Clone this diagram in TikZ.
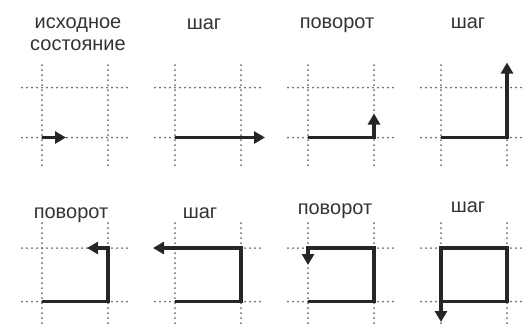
\documentclass[tikz,border=0pt]{standalone}
\usepackage{fontspec}
\setmainfont{Liberation Sans}
\usetikzlibrary{arrows.meta}
\tikzset{
  >=Latex,
  dotline/.style={draw=black!60, line width=2pt, line cap=round,
    dash pattern=on 0pt off 5pt},
  trail/.style={draw=black!85, line width=3.4pt, line join=miter,
    -{Triangle[length=11pt, width=12pt]}},
  caption/.style={anchor=base, align=center, text=black!80,
    font=\fontsize{20}{22}\selectfont, inner sep=0pt}
}

\begin{document}
\begin{tikzpicture}[x=1pt,y=-1pt]
\useasboundingbox (0,0) rectangle (525,325);

% Grid cells: name / left x / lower y / height / top and bottom reach of the verticals
\foreach \n/\x/\y/\h/\t/\b in {p1/42/137.5/50/65/165, p2/175/137.5/50/65/165,
    p3/308/137.5/50/65/165, p4/441/137.5/50/65/165,
    p5/42/301.5/53.5/223/328, p6/175/301.5/53.5/223/328,
    p7/308/301.5/53.5/223/328, p8/441/301.5/53.5/223/328}{
  \coordinate (\n-a) at (\x,\y);
  \coordinate (\n-b) at (\x+66,\y);
  \coordinate (\n-c) at (\x+66,\y-\h);
  \coordinate (\n-d) at (\x,\y-\h);
  \draw[dotline] (\x,\t) -- (\x,\b);
  \draw[dotline] (\x+66,\t) -- (\x+66,\b);
  \draw[dotline] (\x-20,\y) -- (\x+86,\y);
  \draw[dotline] (\x-20,\y-\h) -- (\x+86,\y-\h);
}

% Captions
\node[caption] (l1) at (78,50) {исходное\\состояние};
\node[caption] (l2) at (204,29) {шаг};
\node[caption] (l3) at (337,28) {поворот};
\node[caption] (l4) at (468,28) {шаг};
\node[caption] (l5) at (71,218) {поворот};
\node[caption] (l6) at (200,218) {шаг};
\node[caption] (l7) at (335,214) {поворот};
\node[caption] (l8) at (468,212) {шаг};

% Moves
\draw[trail] (p1-a) -- ++(24,0);
\draw[trail] (p2-a) -- ++(90,0);
\draw[trail] (p3-a) -- (p3-b) -- ++(0,-24);
\draw[trail] (p4-a) -- (p4-b) -- ++(0,-75);
\draw[trail] (p5-a) -- (p5-b) -- (p5-c) -- ++(-21,0);
\draw[trail] (p6-a) -- (p6-b) -- (p6-c) -- ++(-88,0);
\draw[trail] (p7-a) -- (p7-b) -- (p7-c) -- (p7-d) -- ++(0,17);
\draw[trail] (p8-a) -- (p8-b) -- (p8-c) -- (p8-d) -- ++(0,74);

\end{tikzpicture}
\end{document}
